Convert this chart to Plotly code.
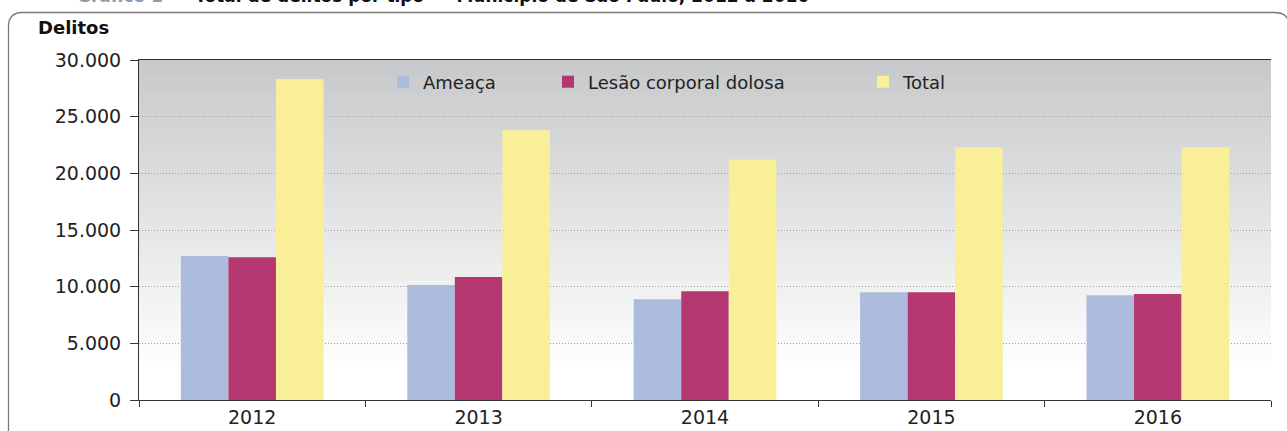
import plotly.graph_objects as go

anos = ["2012", "2013", "2014", "2015", "2016"]
ameaca = [12700, 10150, 8900, 9500, 9250]
lesao = [12600, 10850, 9600, 9500, 9350]
total = [28300, 23800, 21200, 22300, 22300]

series_names = ["Ameaça", "Lesão corporal dolosa", "Total"]
series_colors = ["#ADBCDC", "#B53771", "#F9EF98"]

W, H = 1287, 431
L, R, T, B = 139, 16, 60, 31
PW = W - L - R
PH = H - T - B

def px(xp):
    return (xp - L) / PW

def py(yp):
    return (H - B - yp) / PH

FONT = "DejaVu Sans"

fig = go.Figure()
for name, vals, col, lg in zip(series_names, [ameaca, lesao, total], series_colors,
                               ["legend", "legend2", "legend3"]):
    fig.add_trace(go.Bar(x=anos, y=vals, name=name, marker_color=col,
                         marker_line_width=0, legend=lg, showlegend=True))

shapes = []
# gradient background of plot area
top_c = (200, 201, 203)
bot_c = (255, 255, 255)
y0p, y1p = 60, 376
n = 40
for i in range(n):
    a = y0p + (y1p - y0p) * i / n
    b = y0p + (y1p - y0p) * (i + 1) / n + 1.5
    t = i / (n - 1)
    c = tuple(round(top_c[k] + (bot_c[k] - top_c[k]) * t) for k in range(3))
    shapes.append(dict(type="rect", xref="paper", yref="paper", x0=0, x1=1,
                       y0=max(py(b), 0), y1=py(a), fillcolor="rgb(%d,%d,%d)" % c,
                       line_width=0, layer="below"))

# rounded frame
l, tp, r, bt = 8.5, 12.5, 1289, 433
rad = 14
path = (f"M {px(l)},{py(bt)} L {px(l)},{py(tp + rad)} "
        f"Q {px(l)},{py(tp)} {px(l + rad)},{py(tp)} "
        f"L {px(r - rad)},{py(tp)} Q {px(r)},{py(tp)} {px(r)},{py(tp + rad)} "
        f"L {px(r)},{py(bt)}")
shapes.append(dict(type="path", xref="paper", yref="paper", path=path,
                   line=dict(color="#7a7a7a", width=1.3), layer="below"))

legend_common = dict(yanchor="middle", xanchor="left", orientation="h",
                     bgcolor="rgba(0,0,0,0)",
                     font=dict(family=FONT, size=18, color="#222222"))

fig.update_layout(
    width=W, height=H,
    margin=dict(l=L, r=R, t=T, b=B, pad=0, autoexpand=False),
    paper_bgcolor="white", plot_bgcolor="rgba(0,0,0,0)",
    barmode="group", bargap=0.37, bargroupgap=0,
    separators=",.",
    showlegend=True,
    font=dict(family=FONT, size=18, color="#222222"),
    shapes=shapes,
    xaxis=dict(type="category", showline=True, linecolor="#333333", linewidth=1,
               mirror=True, ticks="outside", tickson="boundaries", ticklen=6,
               tickcolor="#333333", showgrid=False, automargin=False,
               tickfont=dict(family=FONT, size=19, color="#222222")),
    yaxis=dict(range=[0, 30000], dtick=5000, tickformat=",d", showline=True,
               linecolor="#333333", linewidth=1, ticks="outside", ticklen=8,
               tickcolor="#333333", showgrid=True, gridcolor="#a0a0a0",
               griddash="1px,2px", gridwidth=1, zeroline=False,
               ticklabelstandoff=5, automargin=False,
               tickfont=dict(family=FONT, size=19, color="#222222")),
    legend=dict(x=px(383), y=py(82), **legend_common),
    legend2=dict(x=px(548), y=py(82), **legend_common),
    legend3=dict(x=px(863), y=py(82), **legend_common),
)

fig.add_annotation(text="<b>Delitos</b>", xref="paper", yref="paper",
                   x=px(36), y=py(28), xanchor="left", yanchor="middle",
                   showarrow=False, font=dict(family=FONT, size=18, color="#111111"))

fig.add_annotation(
    text="<b><span style='color:#8d9cae'>Gráfico 1</span>  –  Total de delitos por tipo  –  Município de São Paulo, 2012 a 2016</b>",
    xref="paper", yref="paper", x=px(75), y=py(-4.5), xanchor="left", yanchor="middle",
    showarrow=False, font=dict(family=FONT, size=17, color="#111111"))

fig.write_html("out.html", config={"displayModeBar": False},
               post_script="document.body.style.margin='0';")
